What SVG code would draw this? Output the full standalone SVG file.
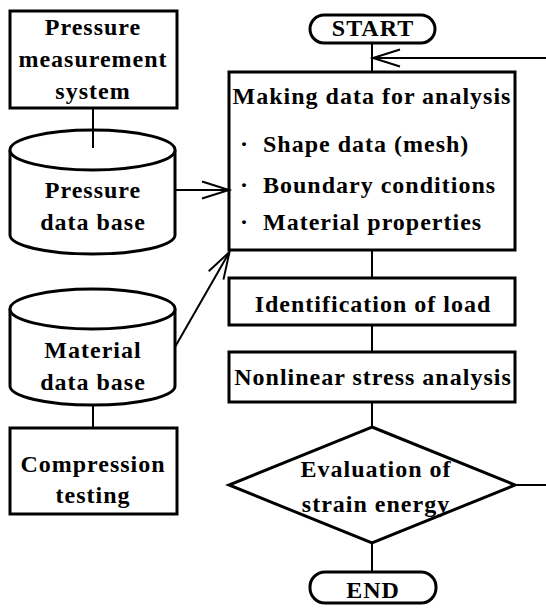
<svg xmlns="http://www.w3.org/2000/svg" width="546" height="610" viewBox="0 0 546 610">
  <style>
    .box { fill: #fff; stroke: #000; stroke-width: 3; }
    .line { fill: none; stroke: #000; stroke-width: 2; }
    .lbl { font-family: "Liberation Serif", "Times New Roman", serif; font-weight: bold; font-size: 24px; letter-spacing: 1px; fill: #000; text-anchor: middle; }
    .left { text-anchor: start; }
  </style>
  <defs>
    <marker id="open" markerUnits="userSpaceOnUse" markerWidth="40" markerHeight="30" refX="0" refY="0" viewBox="-30 -15 40 30" orient="auto" overflow="visible">
      <path d="M-27,-8.5 L0,0 L-27,8.5" fill="none" stroke="#000" stroke-width="2"/>
    </marker>
  </defs>
  <rect width="546" height="610" fill="#fff"/>

  <g id="pressure-measurement">
    <rect class="box" x="10" y="11" width="167" height="97"/>
    <text class="lbl" x="93" y="35">Pressure</text>
    <text class="lbl" x="93" y="67">measurement</text>
    <text class="lbl" x="93" y="99">system</text>
  </g>

  <g id="pressure-db">
    <path class="box" d="M10,150 L10,235 A82.5,19 0 0 0 175,235 L175,150"/>
    <ellipse class="box" cx="92.5" cy="150" rx="82.5" ry="20"/>
    <text class="lbl" x="93" y="198">Pressure</text>
    <text class="lbl" x="93" y="230">data base</text>
  </g>

  <g id="material-db">
    <path class="box" d="M10,309 L10,386 A82.5,19 0 0 0 175,386 L175,309"/>
    <ellipse class="box" cx="92.5" cy="309" rx="82.5" ry="20"/>
    <text class="lbl" x="93" y="358">Material</text>
    <text class="lbl" x="93" y="390">data base</text>
  </g>

  <g id="compression">
    <rect class="box" x="10" y="428" width="167" height="86"/>
    <text class="lbl" x="93" y="472">Compression</text>
    <text class="lbl" x="93" y="503">testing</text>
  </g>

  <g id="start">
    <rect class="box" x="310" y="15" width="125" height="28" rx="14"/>
    <text class="lbl" x="373" y="36">START</text>
  </g>

  <g id="making-data">
    <rect class="box" x="229" y="72" width="286" height="178"/>
    <text class="lbl" x="372" y="104">Making data for analysis</text>
    <text class="lbl left" y="152"><tspan x="240">·</tspan><tspan x="263">Shape data (mesh)</tspan></text>
    <text class="lbl left" y="193"><tspan x="240">·</tspan><tspan x="263">Boundary conditions</tspan></text>
    <text class="lbl left" y="230"><tspan x="240">·</tspan><tspan x="263">Material properties</tspan></text>
  </g>

  <g id="identification">
    <rect class="box" x="229" y="278" width="286" height="47"/>
    <text class="lbl" x="373" y="312">Identification of load</text>
  </g>

  <g id="nonlinear">
    <rect class="box" x="229" y="352" width="286" height="50"/>
    <text class="lbl" x="373" y="385">Nonlinear stress analysis</text>
  </g>

  <g id="evaluation">
    <polygon class="box" points="372,427 515,485 372,543 229,485"/>
    <text class="lbl" x="376" y="477">Evaluation of</text>
    <text class="lbl" x="376" y="512">strain energy</text>
  </g>

  <g id="end">
    <rect class="box" x="310" y="572" width="126" height="31" rx="15"/>
    <text class="lbl" x="373" y="598">END</text>
  </g>

  <!-- links between the steps; drawn last so the stub into the top cylinder shows -->
  <g id="connectors">
    <line class="line" x1="93" y1="108" x2="93" y2="148"/>
    <line class="line" x1="175" y1="190" x2="229" y2="190" marker-end="url(#open)"/>
    <line class="line" x1="175" y1="347" x2="229.5" y2="252" marker-end="url(#open)"/>
    <line class="line" x1="93" y1="405" x2="93" y2="428"/>
    <line class="line" x1="372" y1="43" x2="372" y2="72"/>
    <line class="line" x1="546" y1="58" x2="373" y2="58" marker-end="url(#open)"/>
    <line class="line" x1="372" y1="250" x2="372" y2="278"/>
    <line class="line" x1="372" y1="325" x2="372" y2="352"/>
    <line class="line" x1="372" y1="402" x2="372" y2="427"/>
    <line class="line" x1="515" y1="485" x2="546" y2="485"/>
    <line class="line" x1="372" y1="543" x2="372" y2="572"/>
  </g>
</svg>
